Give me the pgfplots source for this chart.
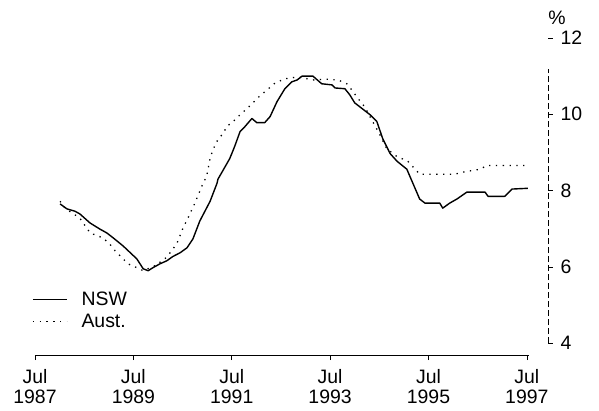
\documentclass[border=0pt]{standalone}
\usepackage{fontspec}
\setmainfont{Liberation Sans}
\usepackage{pgfplots}
\pgfplotsset{compat=1.18}
\begin{document}
\begin{tikzpicture}
\begin{axis}[
  scale only axis, width=513bp, height=317bp,
  xmin=1987.5, xmax=1997.93, ymin=3.69, ymax=12,
  axis x line*=bottom, axis y line*=right,
  x axis line style={draw=none}, y axis line style={draw=none},
  xtick={1987.5,1989.5,...,1997.5},
  xticklabels={{Jul\\1987},{Jul\\1989},{Jul\\1991},{Jul\\1993},{Jul\\1995},{Jul\\1997}},
  ytick={4,6,...,12},
  tick align=outside,
  major tick length=5bp,
  tick style={black, line width=0.6bp},
  xticklabel style={align=center, font=\fontsize{19.5}{20}\selectfont, yshift=-6bp},
  yticklabel style={font=\fontsize{19.5}{20}\selectfont, xshift=4bp},
  /pgf/number format/assume math mode=true,
  legend style={draw=none, fill=none, at={(rel axis cs:-0.006,0.205)}, anchor=north west,
    font=\fontsize{19.5}{20}\selectfont, inner sep=0pt, row sep=3bp, column sep=12bp,
    nodes={inner sep=2bp, anchor=west}},
  legend cell align=left,
  legend image code/.code={\draw[#1] (0bp,0bp) -- (34bp,0bp);},
  clip=false,
]
\addplot[black, line width=1.4bp, line join=round] coordinates {
(1988.01,7.65) (1988.15,7.52) (1988.31,7.46) (1988.41,7.39) (1988.62,7.15)
(1988.82,6.99) (1988.96,6.89) (1989.09,6.76) (1989.29,6.55) (1989.57,6.21)
(1989.70,5.95) (1989.80,5.90) (1989.90,5.98) (1990.04,6.08) (1990.18,6.16)
(1990.30,6.27) (1990.45,6.37) (1990.59,6.50) (1990.71,6.73) (1990.85,7.20)
(1991.06,7.72) (1991.20,8.19) (1991.22,8.30) (1991.46,8.84) (1991.56,9.16)
(1991.67,9.55) (1991.77,9.68) (1991.91,9.89) (1992.01,9.78) (1992.17,9.78)
(1992.28,9.94) (1992.42,10.33) (1992.58,10.67) (1992.72,10.85) (1992.83,10.90)
(1992.93,11.00) (1993.15,11.00) (1993.33,10.80) (1993.54,10.77) (1993.60,10.69)
(1993.80,10.67) (1993.90,10.51) (1994.00,10.30) (1994.15,10.15) (1994.31,9.99)
(1994.45,9.81) (1994.57,9.36) (1994.72,8.97) (1994.86,8.77) (1995.06,8.56)
(1995.32,7.78) (1995.43,7.67) (1995.73,7.67) (1995.79,7.54) (1995.93,7.67)
(1996.08,7.78) (1996.28,7.96) (1996.65,7.96) (1996.71,7.85) (1997.05,7.85)
(1997.20,8.04) (1997.52,8.06)
};
\addlegendentry{NSW}
\addplot[black, line width=1.3bp, dash pattern=on 1.3bp off 5.5bp] coordinates {
(1988.01,7.72) (1988.11,7.54) (1988.41,7.28) (1988.62,6.89) (1988.88,6.76)
(1989.02,6.60) (1989.13,6.42) (1989.27,6.24) (1989.39,6.08) (1989.57,5.98)
(1989.70,5.90) (1989.94,6.03) (1990.14,6.21) (1990.28,6.42) (1990.39,6.63)
(1990.51,7.02) (1990.61,7.28) (1990.75,7.67) (1990.91,8.17) (1990.99,8.38)
(1991.06,8.84) (1991.12,9.08) (1991.22,9.34) (1991.32,9.49) (1991.40,9.68)
(1991.57,9.86) (1991.67,9.99) (1991.81,10.15) (1991.93,10.30) (1992.07,10.48)
(1992.22,10.64) (1992.38,10.82) (1992.58,10.93) (1992.85,10.98) (1993.15,10.90)
(1993.40,10.92) (1993.66,10.90) (1993.84,10.80) (1993.94,10.64) (1994.04,10.46)
(1994.20,10.20) (1994.51,9.47) (1994.65,9.10) (1994.85,8.90) (1995.08,8.77)
(1995.32,8.43) (1996.04,8.43) (1996.18,8.48) (1996.55,8.56) (1996.69,8.66)
(1997.42,8.66) (1997.50,8.66)
};
\addlegendentry{Aust.}
\draw[black, line width=0.8bp] (axis cs:1987.5,3.69) -- (axis cs:1997.55,3.69);
\draw[black, line width=0.7bp, dash pattern=on 6bp off 3bp] (axis cs:1997.93,4) -- (axis cs:1997.93,11.2);
\node[font=\fontsize{19.5}{20}\selectfont] at ([xshift=9bp,yshift=20bp]rel axis cs:1,1) {\%};
\end{axis}
\path ([xshift=-35bp,yshift=-56bp]current axis.origin) rectangle ++(599bp,411bp);
\end{tikzpicture}
\end{document}
